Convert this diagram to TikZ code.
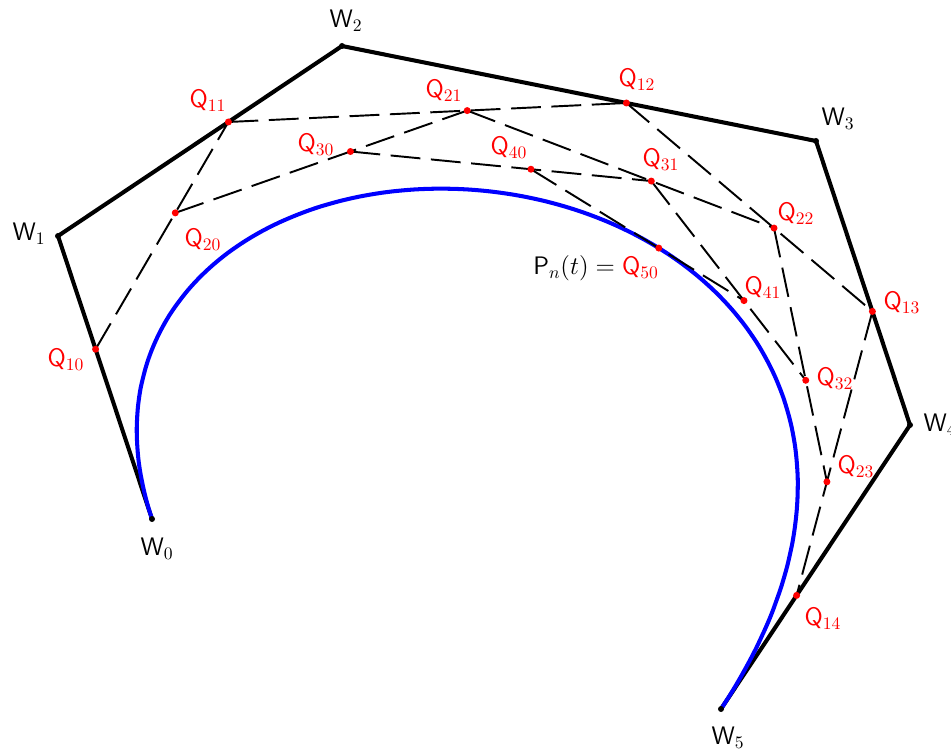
\documentclass[tikz,border=0pt]{standalone}
\usepackage{amsmath}
\usepackage{xcolor}
\usetikzlibrary{calc,positioning}

\begin{document}
\begin{tikzpicture}[x=0.2mm,y=-0.2mm,line join=round,
    ctrl/.style={black,line width=2.3pt},
    aux/.style={black,line width=1.1pt,dash pattern=on 17pt off 6pt},
    bez/.style={blue,line width=2.3pt},
    wlab/.style={font=\Large,black,inner sep=0pt},
    qlab/.style={font=\Large,red,inner sep=0pt}]
  \useasboundingbox (0,0) rectangle (951,752);
  % ============ Control polygon W_0 ... W_5 ============
  \coordinate (W0) at (152,519);
  \coordinate (W1) at (58,236);
  \coordinate (W2) at (342,46);
  \coordinate (W3) at (816,141);
  \coordinate (W4) at (910,425);
  \coordinate (W5) at (721,709);
  \draw[ctrl] (W0) -- (W1) -- (W2) -- (W3) -- (W4) -- (W5);
  % ============ de Casteljau points, t = 0.6 ============
  \coordinate (Q10) at ($(W0)!0.6!(W1)$);
  \coordinate (Q11) at ($(W1)!0.6!(W2)$);
  \coordinate (Q12) at ($(W2)!0.6!(W3)$);
  \coordinate (Q13) at ($(W3)!0.6!(W4)$);
  \coordinate (Q14) at ($(W4)!0.6!(W5)$);
  \coordinate (Q20) at ($(Q10)!0.6!(Q11)$);
  \coordinate (Q21) at ($(Q11)!0.6!(Q12)$);
  \coordinate (Q22) at ($(Q12)!0.6!(Q13)$);
  \coordinate (Q23) at ($(Q13)!0.6!(Q14)$);
  \coordinate (Q30) at ($(Q20)!0.6!(Q21)$);
  \coordinate (Q31) at ($(Q21)!0.6!(Q22)$);
  \coordinate (Q32) at ($(Q22)!0.6!(Q23)$);
  \coordinate (Q40) at ($(Q30)!0.6!(Q31)$);
  \coordinate (Q41) at ($(Q31)!0.6!(Q32)$);
  \coordinate (Q50) at ($(Q40)!0.6!(Q41)$);
  % ============ Bezier curve P_n(t) ============
  \draw[bez] plot[domain=0:1,samples=120,smooth,variable=\t]
    ({152*(1-\t)^5 + 290*\t*(1-\t)^4 + 3420*\t^2*(1-\t)^3
      + 8160*\t^3*(1-\t)^2 + 4550*\t^4*(1-\t) + 721*\t^5},
     {519*(1-\t)^5 + 1180*\t*(1-\t)^4 + 460*\t^2*(1-\t)^3
      + 1410*\t^3*(1-\t)^2 + 2125*\t^4*(1-\t) + 709*\t^5});
  % ============ Intermediate polygons ============
  \foreach \a/\b in {10/11,11/12,12/13,13/14,20/21,21/22,22/23,30/31,31/32,40/41}
    \draw[aux] (Q\a) -- (Q\b);
  % ============ Markers ============
  \foreach \w in {0,...,5}
    \fill[black] (W\w) circle (3);
  \foreach \q in {10,11,12,13,14,20,21,22,23,30,31,32,40,41,50}
    \fill[red] (Q\q) circle (3.5);
  % ============ Labels ============
  \node[wlab] (lW0) at (157,549) {$\mathsf{W}_0$};
  \node[wlab] (lW1) at (29,234) {$\mathsf{W}_1$};
  \node[wlab] (lW2) at (346,21) {$\mathsf{W}_2$};
  \node[wlab] (lW3) at (838,119) {$\mathsf{W}_3$};
  \node[wlab] (lW4) at (940,425) {$\mathsf{W}_4$};
  \node[wlab] (lW5) at (728,738) {$\mathsf{W}_5$};
  \node[qlab] (lQ10) at (66,360) {$\mathsf{Q}_{10}$};
  \node[qlab] (lQ11) at (208,101) {$\mathsf{Q}_{11}$};
  \node[qlab] (lQ12) at (637,80) {$\mathsf{Q}_{12}$};
  \node[qlab] (lQ13) at (902,303) {$\mathsf{Q}_{13}$};
  \node[qlab] (lQ14) at (823,619) {$\mathsf{Q}_{14}$};
  \node[qlab] (lQ20) at (203,240) {$\mathsf{Q}_{20}$};
  \node[qlab] (lQ21) at (444,91) {$\mathsf{Q}_{21}$};
  \node[qlab] (lQ22) at (796,214) {$\mathsf{Q}_{22}$};
  \node[qlab] (lQ23) at (856,467) {$\mathsf{Q}_{23}$};
  \node[qlab] (lQ30) at (316,145) {$\mathsf{Q}_{30}$};
  \node[qlab] (lQ31) at (661,160) {$\mathsf{Q}_{31}$};
  \node[qlab] (lQ32) at (835,379) {$\mathsf{Q}_{32}$};
  \node[qlab] (lQ40) at (509,148) {$\mathsf{Q}_{40}$};
  \node[qlab] (lQ41) at (763,288) {$\mathsf{Q}_{41}$};
  \node[wlab] (lQ50) at (596,268)
    {$\mathsf{P}_n(t) = \textcolor{red}{\mathsf{Q}_{50}}$};
\end{tikzpicture}
\end{document}
